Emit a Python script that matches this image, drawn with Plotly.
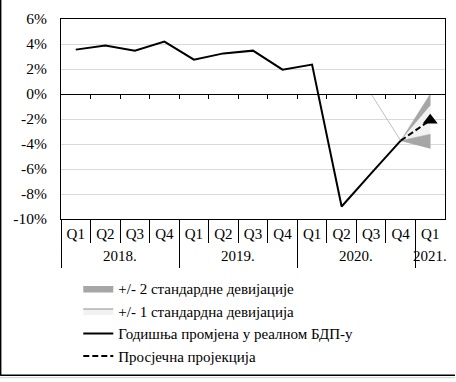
import plotly.graph_objects as go

quarters = ["Q1", "Q2", "Q3", "Q4", "Q1", "Q2", "Q3", "Q4", "Q1", "Q2", "Q3", "Q4", "Q1"]
years = ["2018.", "2019.", "2020.", "2021."]
year_centers = [1.5, 5.5, 9.5, 12]
gdp_growth = [3.55, 3.87, 3.47, 4.19, 2.75, 3.25, 3.47, 1.95, 2.35, -9.0, -6.35, -3.73]
proj_x = [11, 12]
proj_mean = [-3.73, -2.1]
band2_upper = [-3.73, 0.0]
band1_upper = [-3.73, -0.95]
band1_lower = [-3.73, -3.22]
band2_lower = [-3.73, -4.35]
old_line_x = [10, 11]
old_line_y = [0.0, -3.73]
y_ticks = [-10, -8, -6, -4, -2, 0, 2, 4, 6]
y_labels = ["-10%", "-8%", "-6%", "-4%", "-2%", "0%", "2%", "4%", "6%"]

FONT = "Liberation Serif"
DARK = "#a6a6a6"
LIGHT = "#f2f2f2"

fig = go.Figure()

# legend-only entries (style samples)
fig.add_trace(go.Scatter(
    x=[None], y=[None], fill="toself", fillcolor=DARK,
    line=dict(color=DARK, width=1), mode="lines",
    name="+/- 2 стандардне девијације"))
fig.add_trace(go.Scatter(
    x=[None], y=[None], fill="toself", fillcolor=LIGHT,
    line=dict(color="#8c8c8c", width=1), mode="lines",
    name="+/- 1 стандардна девијација"))

# +/- 2 sd upper band
fig.add_trace(go.Scatter(
    x=proj_x + proj_x[::-1], y=band2_upper + band1_upper[::-1],
    fill="toself", fillcolor=DARK, line=dict(color=DARK, width=0.5),
    mode="lines", showlegend=False))
# +/- 1 sd band
fig.add_trace(go.Scatter(
    x=proj_x + proj_x[::-1], y=band1_upper + band1_lower[::-1],
    fill="toself", fillcolor=LIGHT, line=dict(color=LIGHT, width=0.5),
    mode="lines", showlegend=False))
# +/- 2 sd lower band
fig.add_trace(go.Scatter(
    x=proj_x + proj_x[::-1], y=band1_lower + band2_lower[::-1],
    fill="toself", fillcolor=DARK, line=dict(color=DARK, width=0.5),
    mode="lines", showlegend=False))
# thin gray line
fig.add_trace(go.Scatter(
    x=old_line_x, y=old_line_y, mode="lines",
    line=dict(color="#c0c0c0", width=1), showlegend=False))
# actual
fig.add_trace(go.Scatter(
    x=list(range(len(gdp_growth))), y=gdp_growth, mode="lines",
    line=dict(color="black", width=2),
    name="Годишња промјена у реалном БДП-у"))
# projection
fig.add_trace(go.Scatter(
    x=proj_x, y=proj_mean, mode="lines",
    line=dict(color="black", width=2, dash="6px,3px"),
    name="Просјечна пројекција"))
fig.add_trace(go.Scatter(
    x=proj_x[1:], y=proj_mean[1:], mode="markers",
    marker=dict(symbol="triangle-up", size=13, color="black"),
    showlegend=False))

# dummy traces for helper axes
for ax in ["x2", "x3", "x4"]:
    fig.add_trace(go.Scatter(x=[None], y=[None], xaxis=ax, showlegend=False,
                             hoverinfo="skip"))

boundaries = [i - 0.5 for i in range(13)]
year_bounds = [-0.5, 3.5, 7.5, 11.5]
fig.update_layout(
    width=456, height=382,
    margin=dict(l=61, r=11, t=19, b=162),
    paper_bgcolor="white", plot_bgcolor="white",
    font=dict(family=FONT, size=15, color="black"),
    xaxis=dict(range=[-0.5, 12.5], tickvals=list(range(13)), ticktext=quarters,
               ticks="", showgrid=False, zeroline=False, showline=True,
               linecolor="black", linewidth=1, mirror=True, automargin=False,
               ticklabelstandoff=1, tickfont=dict(size=15, family=FONT)),
    xaxis2=dict(overlaying="x", matches="x", anchor="free", position=0.625,
                side="bottom", tickvals=boundaries[1:], ticks="outside",
                ticklen=4, tickcolor="black", tickwidth=1, showticklabels=False,
                showgrid=False, zeroline=False, showline=True,
                linecolor="black", linewidth=1, automargin=False),
    xaxis3=dict(overlaying="x", matches="x", anchor="free", position=0,
                side="bottom", tickvals=boundaries, ticks="outside",
                ticklen=23, tickcolor="black", tickwidth=1,
                showticklabels=False, showgrid=False, zeroline=False,
                showline=False, automargin=False),
    xaxis4=dict(overlaying="x", matches="x", anchor="free", position=0,
                side="bottom", tickvals=year_bounds, ticks="outside",
                ticklen=48, tickcolor="black", tickwidth=1,
                showticklabels=False, showgrid=False, zeroline=False,
                showline=False, automargin=False),
    yaxis=dict(range=[-10, 6], tickvals=y_ticks, ticktext=y_labels,
               showgrid=True, gridcolor="#d9d9d9", gridwidth=1,
               zeroline=False, showline=True, linecolor="black",
               linewidth=1, mirror=True, ticks="", ticklabelstandoff=10,
               automargin=False, tickfont=dict(size=15.5, family=FONT)),
    legend=dict(x=0.045, y=-0.26, xanchor="left", yanchor="top",
                font=dict(size=15, family=FONT), itemwidth=30,
                bgcolor="rgba(0,0,0,0)", tracegroupgap=0,
                traceorder="normal"),
    showlegend=True,
)

for label, xc in zip(years, year_centers):
    fig.add_annotation(x=xc, y=-0.184, xref="x", yref="paper", text=label,
                       showarrow=False, font=dict(size=15, family=FONT),
                       xanchor="center", yanchor="middle")

# outer frame (left and bottom)
fig.add_shape(type="line", xref="paper", yref="paper",
              x0=-60.5 / 385, x1=-60.5 / 385, y0=220 / 201, y1=-157 / 201,
              line=dict(color="black", width=1.5))
fig.add_shape(type="line", xref="paper", yref="paper",
              x0=-61 / 385, x1=395 / 385, y0=-157 / 201, y1=-157 / 201,
              line=dict(color="black", width=1.5))
fig.add_shape(type="line", xref="paper", yref="paper",
              x0=-61 / 385, x1=395 / 385, y0=-159.5 / 201, y1=-159.5 / 201,
              line=dict(color="#d0d0d0", width=1))

fig.write_html("out.html", config={"displayModeBar": False},
               post_script="document.body.style.margin='0';"
                           "document.body.style.overflow='hidden';")
